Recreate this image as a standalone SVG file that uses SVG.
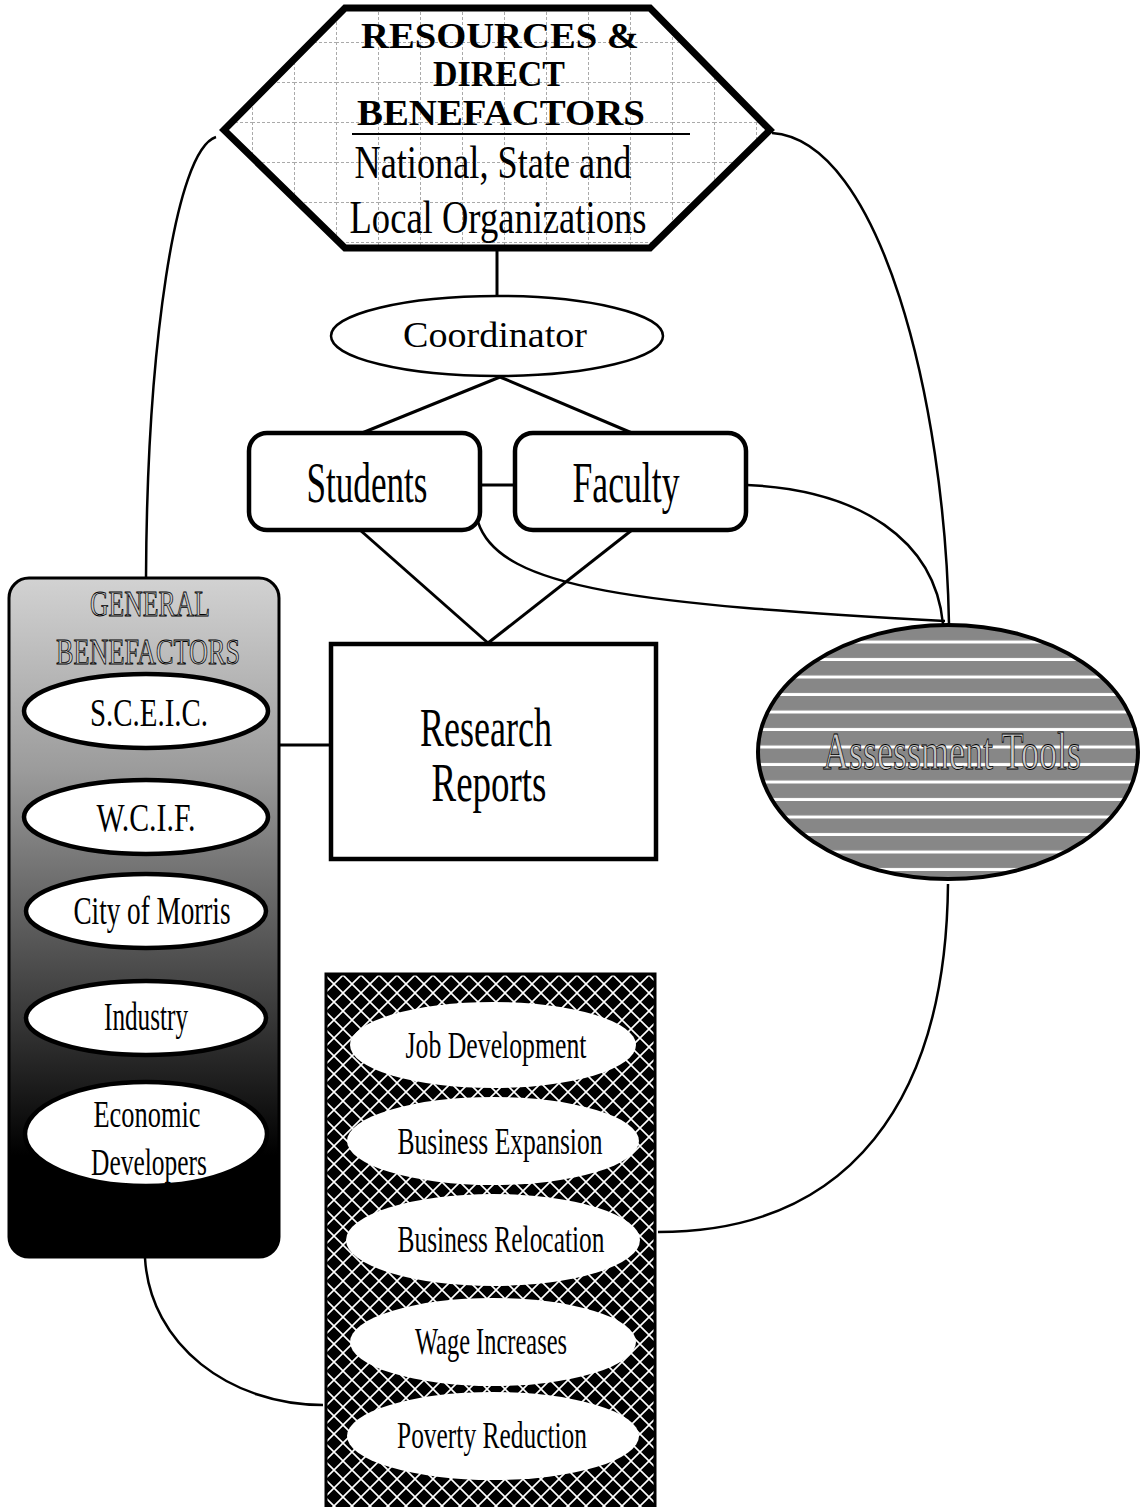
<svg xmlns="http://www.w3.org/2000/svg" width="1141" height="1507" viewBox="0 0 1141 1507">
<style>
.t{font-family:"Liberation Serif","Times New Roman",serif;fill:#000;text-anchor:middle}
.b{font-weight:bold}
.o{fill:#c8c8c8;stroke:#000;stroke-width:0.9}
.c{fill:none;stroke:#000;stroke-width:2.5}
.l{fill:none;stroke:#000;stroke-width:3}
.we{fill:#fff;stroke:#000;stroke-width:4.5}
.be{fill:#fff;stroke:none}
</style>
<defs>
<pattern id="grid" patternUnits="userSpaceOnUse" x="0" y="2" width="42" height="40">
<rect width="42" height="40" fill="#fff"/>
<path d="M0 0.5H42M0.5 0V40" stroke="#aaa" stroke-width="1" stroke-dasharray="3 2"/>
</pattern>
<linearGradient id="gb" x1="0" y1="0" x2="0" y2="1">
<stop offset="0" stop-color="#d2d2d2"/>
<stop offset="0.28" stop-color="#9c9c9c"/>
<stop offset="0.58" stop-color="#4a4a4a"/>
<stop offset="0.85" stop-color="#000"/>
<stop offset="1" stop-color="#000"/>
</linearGradient>
<pattern id="stripes" patternUnits="userSpaceOnUse" x="0" y="626" width="20" height="17.5">
<rect width="20" height="17.5" fill="#fff"/>
<rect y="0" width="20" height="14.5" fill="#878787"/>
</pattern>
<pattern id="hatch" patternUnits="userSpaceOnUse" x="325" y="975" width="18" height="18">
<rect width="18" height="18" fill="#000"/>
<path d="M0 0L18 18M18 0L0 18" stroke="#fff" stroke-width="1.6"/>
</pattern>
</defs>

<g id="connectors">
<line class="l" x1="497" y1="248" x2="497" y2="296"/>
<line class="l" x1="500" y1="377" x2="362" y2="433"/>
<line class="l" x1="500" y1="377" x2="632" y2="433"/>
<line class="l" x1="480" y1="485" x2="515" y2="485"/>
<line class="l" x1="360" y1="530" x2="488" y2="643"/>
<line class="l" x1="632" y1="530" x2="488" y2="643"/>
<line class="l" x1="279" y1="745" x2="331" y2="745"/>
<path class="c" d="M216 137 C175 150,147 350,146 578"/>
<path class="c" d="M772 133 C880 140,945 400,949 624"/>
<path class="c" d="M747 485 C860 490,935 540,943 624"/>
<path class="c" d="M478 522 C500 590,640 604,945 621"/>
<path class="c" d="M948 884 C946 1100,850 1232,658 1232"/>
<path class="c" d="M145 1258 C150 1345,230 1405,323 1405"/>
</g>

<g id="resources">
<polygon points="345,8 650,8 770,130 650,248 345,248 224,130" fill="url(#grid)" stroke="#000" stroke-width="7" stroke-linejoin="miter"/>
<text class="t b" x="500" y="48" font-size="35" textLength="278" lengthAdjust="spacingAndGlyphs">RESOURCES &amp;</text>
<text class="t b" x="499" y="86" font-size="35" textLength="132" lengthAdjust="spacingAndGlyphs">DIRECT</text>
<text class="t b" x="501" y="125" font-size="35" textLength="288" lengthAdjust="spacingAndGlyphs">BENEFACTORS</text>
<line x1="352" y1="134" x2="690" y2="134" stroke="#000" stroke-width="2"/>
<text class="t" x="493" y="178" font-size="47" textLength="277" lengthAdjust="spacingAndGlyphs">National, State and</text>
<text class="t" x="498" y="233" font-size="47" textLength="297" lengthAdjust="spacingAndGlyphs">Local Organizations</text>
</g>

<g id="coordinator">
<ellipse cx="497" cy="336" rx="166" ry="40" fill="#fff" stroke="#000" stroke-width="2.5"/>
<text class="t" x="495" y="347" font-size="35" textLength="184" lengthAdjust="spacingAndGlyphs">Coordinator</text>
</g>

<g id="students">
<rect x="249" y="433" width="231" height="97" rx="18" fill="#fff" stroke="#000" stroke-width="4.5"/>
<text class="t" x="367" y="502" font-size="56" textLength="121" lengthAdjust="spacingAndGlyphs">Students</text>
</g>

<g id="faculty">
<rect x="515" y="433" width="231" height="97" rx="18" fill="#fff" stroke="#000" stroke-width="4.5"/>
<text class="t" x="626" y="502" font-size="56" textLength="107" lengthAdjust="spacingAndGlyphs">Faculty</text>
</g>

<g id="research">
<rect x="331" y="644" width="325" height="215" fill="#fff" stroke="#000" stroke-width="4.5"/>
<text class="t" x="486" y="746" font-size="54" textLength="132" lengthAdjust="spacingAndGlyphs">Research</text>
<text class="t" x="489" y="801" font-size="54" textLength="115" lengthAdjust="spacingAndGlyphs">Reports</text>
</g>

<g id="assessment">
<ellipse cx="948" cy="752" rx="190" ry="127" fill="url(#stripes)" stroke="#000" stroke-width="4"/>
<text class="t o" x="952" y="769" font-size="52" textLength="258" lengthAdjust="spacingAndGlyphs">Assessment Tools</text>
</g>

<g id="general-benefactors">
<rect x="9" y="578" width="270" height="679" rx="20" fill="url(#gb)" stroke="#000" stroke-width="3"/>
<text class="t o" x="150" y="616" font-size="35" textLength="120" lengthAdjust="spacingAndGlyphs">GENERAL</text>
<text class="t o" x="148" y="664" font-size="35" textLength="184" lengthAdjust="spacingAndGlyphs">BENEFACTORS</text>
<ellipse class="we" cx="146" cy="711" rx="122" ry="37"/>
<text class="t" x="149" y="726" font-size="40" textLength="118" lengthAdjust="spacingAndGlyphs">S.C.E.I.C.</text>
<ellipse class="we" cx="146" cy="817" rx="122" ry="37"/>
<text class="t" x="146" y="831" font-size="40" textLength="99" lengthAdjust="spacingAndGlyphs">W.C.I.F.</text>
<ellipse class="we" cx="146" cy="911" rx="120" ry="37"/>
<text class="t" x="152" y="924" font-size="40" textLength="157" lengthAdjust="spacingAndGlyphs">City of Morris</text>
<ellipse class="we" cx="146" cy="1018" rx="120" ry="37"/>
<text class="t" x="146" y="1030" font-size="40" textLength="84" lengthAdjust="spacingAndGlyphs">Industry</text>
<ellipse class="we" cx="146" cy="1134" rx="121" ry="52"/>
<text class="t" x="147" y="1127" font-size="38" textLength="107" lengthAdjust="spacingAndGlyphs">Economic</text>
<text class="t" x="149" y="1175" font-size="38" textLength="116" lengthAdjust="spacingAndGlyphs">Developers</text>
</g>

<g id="outcomes">
<rect x="326" y="974" width="329" height="540" fill="url(#hatch)" stroke="#000" stroke-width="3"/>
<ellipse class="be" cx="493" cy="1045" rx="143" ry="43"/>
<text class="t" x="496" y="1058" font-size="38" textLength="181" lengthAdjust="spacingAndGlyphs">Job Development</text>
<ellipse class="be" cx="493" cy="1141" rx="146" ry="44"/>
<text class="t" x="500" y="1154" font-size="38" textLength="205" lengthAdjust="spacingAndGlyphs">Business Expansion</text>
<ellipse class="be" cx="493" cy="1240" rx="147" ry="46"/>
<text class="t" x="501" y="1252" font-size="38" textLength="207" lengthAdjust="spacingAndGlyphs">Business Relocation</text>
<ellipse class="be" cx="493" cy="1342" rx="143" ry="44"/>
<text class="t" x="491" y="1354" font-size="38" textLength="152" lengthAdjust="spacingAndGlyphs">Wage Increases</text>
<ellipse class="be" cx="493" cy="1436" rx="146" ry="44"/>
<text class="t" x="492" y="1448" font-size="38" textLength="190" lengthAdjust="spacingAndGlyphs">Poverty Reduction</text>
</g>
</svg>
